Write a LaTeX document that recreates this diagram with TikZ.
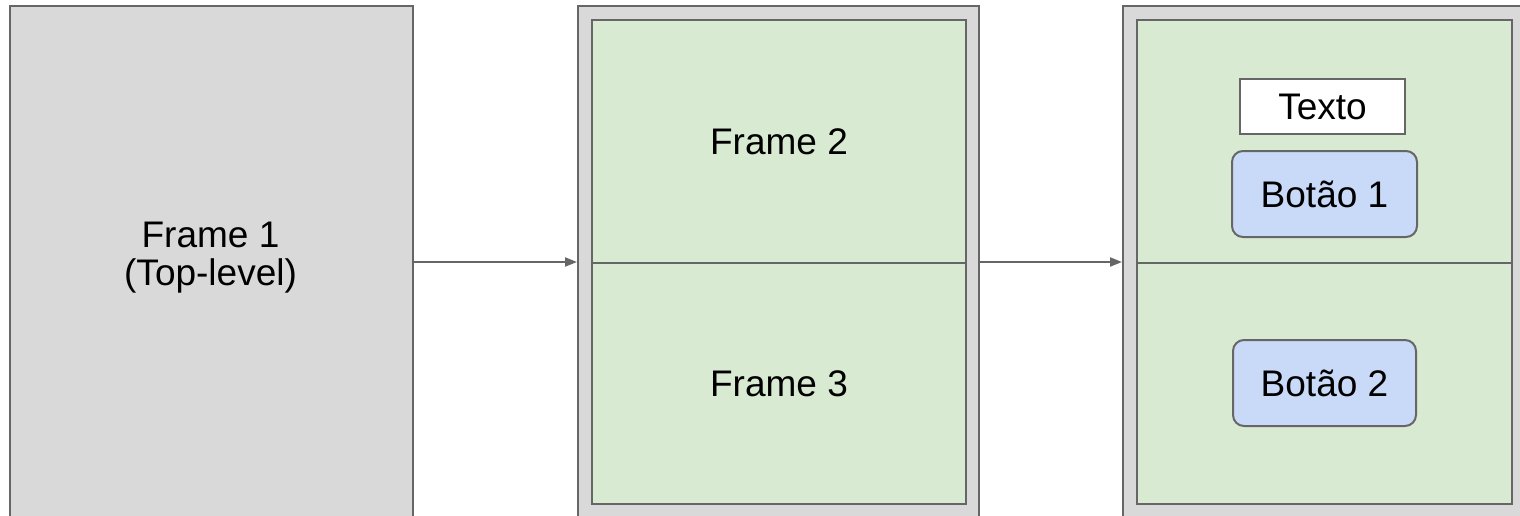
\documentclass[tikz,border=0pt]{standalone}
\usepackage{fontspec}
\setmainfont{Liberation Sans}
\usetikzlibrary{arrows.meta}
\definecolor{edge}{HTML}{666666}
\definecolor{panelgray}{HTML}{D9D9D9}
\definecolor{panelgreen}{HTML}{D9EAD3}
\definecolor{btnblue}{HTML}{C9DAF8}
\tikzset{
  txt/.style={font=\fontsize{37}{38}\selectfont, align=center},
  box/.style={draw=edge, line width=2pt, inner sep=0pt, anchor=north west, txt},
  outer/.style={box, fill=panelgray},
  inner/.style={box, fill=panelgreen},
  label/.style={box, fill=white},
  button/.style={box, fill=btnblue, rounded corners=11pt},
  link/.style={draw=edge, line width=2pt, -{Triangle[length=12pt,width=9pt]}}
}
\begin{document}
\begin{tikzpicture}[x=1pt,y=-1pt]
  \useasboundingbox (0,0) rectangle (1520,516);
  \clip (0,0) rectangle (1520,516);
  % top-level window
  \node[outer, minimum width=403pt, minimum height=512pt] (f1) at (9,5) {};
  \node[txt] (t1) at (210.5,258) {Frame 1\\(Top-level)};
  % second stage: window holding two frames
  \node[outer, minimum width=401pt, minimum height=512pt] (f2) at (577,5) {};
  \node[inner, minimum width=374pt, minimum height=243pt] (f2a) at (591,19) {Frame 2};
  \node[inner, minimum width=374pt, minimum height=241pt] (f2b) at (591,262) {Frame 3};
  % third stage: frames with widgets
  \node[outer, minimum width=403pt, minimum height=512pt] (f3) at (1122,5) {};
  \node[inner, minimum width=375pt, minimum height=243pt] (f3a) at (1136,19) {};
  \node[inner, minimum width=375pt, minimum height=241pt] (f3b) at (1136,262) {};
  \node[label, minimum width=165pt, minimum height=55pt] (lbl) at (1239,78) {Texto};
  \node[button, minimum width=185pt, minimum height=86pt] (b1) at (1231,150) {Botão 1};
  \node[button, minimum width=183pt, minimum height=86pt] (b2) at (1232,339) {Botão 2};
  % connectors along the divider line
  \coordinate (row) at (0,262);
  \draw[link] (f1.east |- row) -- (f2.west |- row);
  \draw[link] (f2.east |- row) -- (f3.west |- row);
\end{tikzpicture}
\end{document}
